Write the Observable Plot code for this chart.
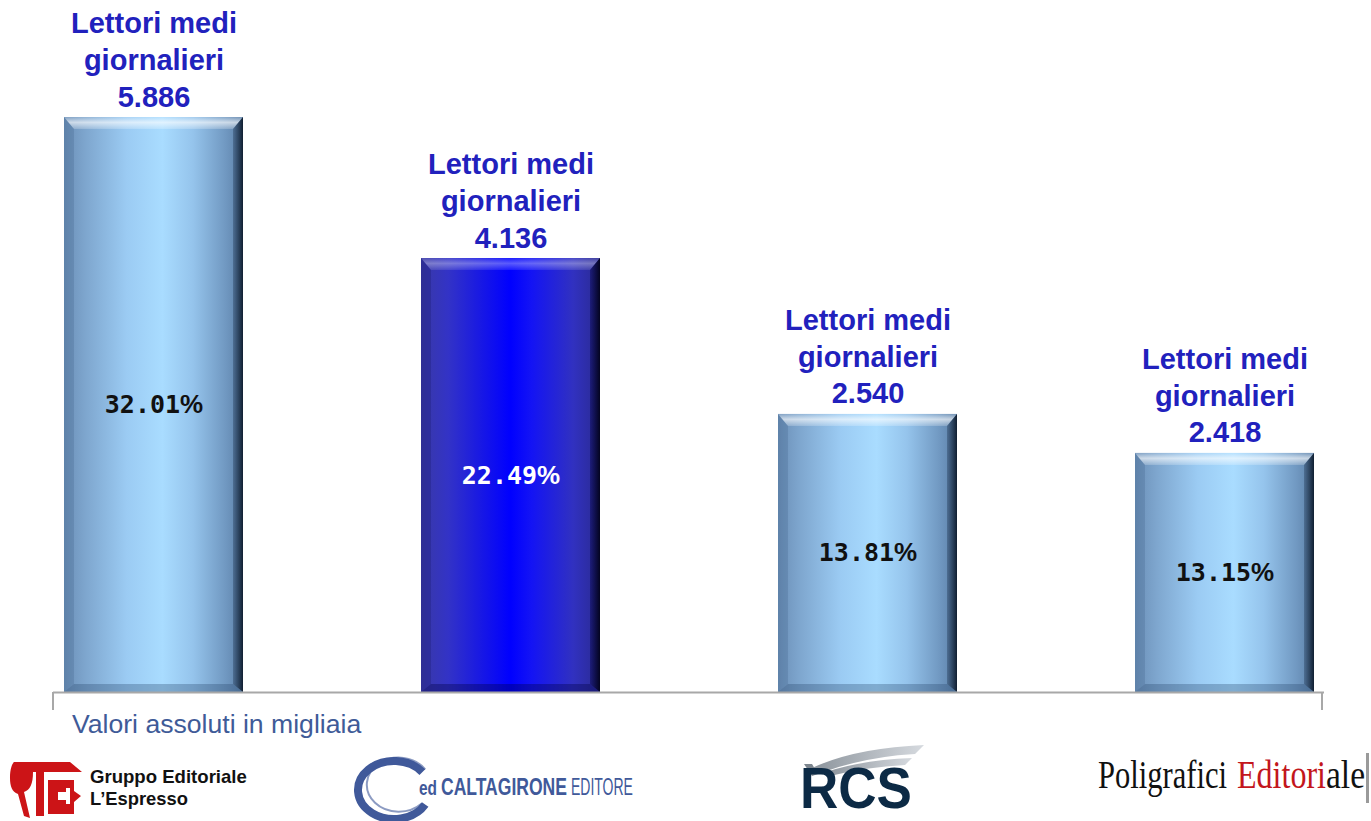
<!DOCTYPE html>
<html>
<head>
<meta charset="utf-8">
<script src="https://cdn.jsdelivr.net/npm/d3@7"></script>
<script src="https://cdn.jsdelivr.net/npm/@observablehq/plot@0.6"></script>
<style>
  body { margin: 0; background: #fff; }
  #wrap { position: relative; width: 1371px; height: 821px; overflow: hidden; background: #fff; }
  #chart svg { display: block; overflow: visible; }
  #footer { display: block; }
  #caption { position: absolute; left: 72px; top: 711px; font: 26.6px/26px "Liberation Sans", Arial, sans-serif; color: #3f5b98; white-space: nowrap; }
</style>
</head>
<body>
<div id="wrap">
  <div id="chart"></div>
  <svg id="footer" width="1371" height="109" viewBox="0 0 1371 109"></svg>
  <div id="caption"></div>
</div>
<script>
// ---------- data ----------
const publishers = ["Gruppo Editoriale L'Espresso", "Caltagirone Editore", "RCS", "Poligrafici Editoriale"];
const shares = [32.01, 22.49, 13.81, 13.15];          // % labels inside the bars
const readers = ["5.886", "4.136", "2.540", "2.418"];   // Lettori medi giornalieri (migliaia)
const barHeights = [32.01, 24.16, 15.48, 13.31];      // bar heights as drawn in the reference (% axis)
const highlighted = ["Caltagirone Editore"];
const labelPrefix = "Lettori medi\ngiornalieri";
const caption = "Valori assoluti in migliaia";

const data = publishers.map((p, i) => ({
  publisher: p, share: shares[i], readers: readers[i], h: barHeights[i], hi: highlighted.includes(p)
}));

const plot = Plot.plot({
  width: 1371,
  height: 712,
  marginLeft: 53,
  marginRight: 47,
  marginTop: 117,
  marginBottom: 20,
  x: { domain: publishers, paddingInner: 0.5, paddingOuter: 0.03, axis: null },
  y: { domain: [0, d3.max(barHeights)], axis: null },
  color: { type: "identity" },
  style: { background: "transparent" },
  marks: [
    Plot.barY(data.filter(d => !d.hi), { x: "publisher", y: "h", fill: "url(#gLight)" }),
    Plot.barY(data.filter(d => d.hi), { x: "publisher", y: "h", fill: "url(#gBlue)" }),
    Plot.ruleY([0], { stroke: "#a8a8a8", strokeWidth: 2 }),
    Plot.text(data, {
      x: "publisher", y: "h",
      text: d => `${labelPrefix}\n${d.readers}`,
      lineAnchor: "bottom", dy: -11, lineHeight: 1.26,
      fontSize: 29, fontWeight: "bold", fontFamily: "Liberation Sans, Arial, sans-serif",
      fill: "#2121bd"
    }),
    Plot.text(data, {
      x: "publisher", y: d => d.h / 2,
      text: d => d.share.toFixed(2) + "%",
      fontSize: 25, fontWeight: "bold", fontFamily: "DejaVu Sans Mono, monospace",
      fill: d => d.hi ? "#ffffff" : "#111111"
    })
  ]
});
document.getElementById("chart").appendChild(plot);
document.getElementById("caption").textContent = caption;

const svg = d3.select(plot);

// render the "%" sign of the share labels in a wider sans glyph, as in the reference
svg.selectAll("text").each(function () {
  const el = d3.select(this);
  if (el.selectAll("tspan").size() > 0) return;
  const s = el.text();
  if (!/%$/.test(s)) return;
  el.text("");
  el.append("tspan").text(s.slice(0, -1));
  el.append("tspan").attr("font-family", "Liberation Sans, Arial, sans-serif").attr("font-size", 26).text("%");
});

// ---------- gradients and bevels ----------
const defs = svg.insert("defs", ":first-child");
function grad(id, stops, vertical) {
  const g = defs.append("linearGradient").attr("id", id)
    .attr("x1", 0).attr("y1", 0).attr("x2", vertical ? 0 : 1).attr("y2", vertical ? 1 : 0);
  stops.forEach(([o, c, a]) => g.append("stop").attr("offset", o).attr("stop-color", c).attr("stop-opacity", a ?? 1));
}
grad("gLight", [[0, "#6b8fb7"], [0.12, "#7ea6ce"], [0.35, "#9bcbf3"], [0.55, "#a9dcff"], [0.72, "#95c4ec"], [0.9, "#7199c2"], [1, "#5a7ea6"]]);
grad("gBlue", [[0, "#3939a6"], [0.15, "#3333c6"], [0.5, "#0000ff"], [0.62, "#1414f4"], [0.85, "#3131c0"], [1, "#2a2a90"]]);
grad("topHi", [[0, "#ffffff", 0.15], [0.45, "#ffffff", 0.65], [1, "#ffffff", 0.2]], true);
grad("topHiB", [[0, "#ffffff", 0.1], [0.45, "#ffffff", 0.35], [1, "#ffffff", 0.1]], true);
grad("rL", [[0, "#1e3450", 0.35], [1, "#0a1626", 0.92]]);
grad("rB", [[0, "#000030", 0.35], [1, "#000015", 0.92]]);
grad("sw", [[0, "#8c949c"], [1, "#d6dadf"]]);

svg.selectAll('g[fill^="url(#g"]').each(function () {
  const grp = d3.select(this);
  const blue = grp.attr("fill") === "url(#gBlue)";
  grp.selectAll("rect").each(function () {
    const r = d3.select(this);
    const x = +r.attr("x"), y = +r.attr("y"), w = +r.attr("width"), h = +r.attr("height");
    const t = 12, s = 10, b = 8;
    const poly = (pts, fill) => grp.append("polygon").attr("points", pts.map(p => p.join(",")).join(" ")).attr("fill", fill);
    poly([[x, y], [x + s, y + t], [x + s, y + h - b], [x, y + h]], blue ? "rgba(10,10,80,0.2)" : "rgba(40,70,110,0.18)");
    poly([[x, y + h], [x + s, y + h - b], [x + w - s, y + h - b], [x + w, y + h]], blue ? "rgba(0,0,70,0.35)" : "rgba(40,70,110,0.32)");
    poly([[x, y], [x + w, y], [x + w - s, y + t], [x + s, y + t]], blue ? "url(#topHiB)" : "url(#topHi)");
    poly([[x + w, y], [x + w, y + h], [x + w - s, y + h - b], [x + w - s, y + t]], blue ? "url(#rB)" : "url(#rL)");
  });
});

// axis end ticks (frame edges of the plot area)
const x0 = 53, x1 = 1371 - 47, yb = 712 - 20;
svg.append("path")
  .attr("d", `M${x0},${yb} V${yb + 18} M${x1 - 2},${yb} V${yb + 18}`)
  .attr("stroke", "#a8a8a8").attr("stroke-width", 2).attr("fill", "none");

// ---------- footer: publisher names ----------
const f = d3.select("#footer");
const SANS = "Liberation Sans, Arial, sans-serif";
function fitText(x, y, width, attrs, str) {
  const t = f.append("text");
  Object.entries(attrs).forEach(([k, v]) => t.attr(k, v));
  t.text(str);
  const natural = t.node().getComputedTextLength() || width;
  t.attr("transform", `translate(${x},${y}) scale(${width / natural},1)`);
  return t;
}

// L'Espresso mark
const red = "#cc1417";
f.append("path").attr("fill", red)
  .attr("d", "M14,50 H70 L82,60 H44 V104 H36 V60 H33 C33,72 30,78 24,80 L30,106 L24,104 L18,82 C12,80 10,74 10,66 C10,57 12,52 14,50 Z");
f.append("path").attr("fill", red)
  .attr("d", "M48,68 H74 V79 L81,84 L74,90 V102 H48 Z");
f.append("path").attr("fill", "#fff").attr("d", "M58,80 H66 V76 H70 V92 H66 V88 H58 Z");
fitText(90, 71, 157, { "font-family": SANS, "font-size": 18, "font-weight": "bold", fill: "#111" }, "Gruppo Editoriale");
fitText(90, 93, 98, { "font-family": SANS, "font-size": 18, "font-weight": "bold", fill: "#111" }, "L\u2019Espresso");

// Caltagirone mark
const cb = "#40599a";
(function () {
  const cx = 394, cy = 78, rx = 36, ry = 29;
  const a0 = -38 * Math.PI / 180, a1 = 30 * Math.PI / 180;
  f.append("path").attr("fill", "none").attr("stroke", cb).attr("stroke-width", 8)
    .attr("d", `M${cx + rx * Math.cos(a0)},${cy + ry * Math.sin(a0)} A${rx},${ry} 0 1 0 ${cx + rx * Math.cos(a1)},${cy + ry * Math.sin(a1)}`);
  f.append("path").attr("fill", "none").attr("stroke", cb).attr("stroke-width", 2).attr("opacity", 0.6)
    .attr("d", `M${cx + 6 + (rx - 4) * Math.cos(a0)},${cy - 4 + (ry - 2) * Math.sin(a0)} A${rx - 4},${ry - 2} 0 1 0 ${cx + (rx - 4) * Math.cos(a1)},${cy + (ry - 2) * Math.sin(a1)}`);
})();
fitText(419, 83, 18, { "font-family": SANS, "font-size": 20, "font-weight": "bold", fill: cb }, "ed");
fitText(441, 83, 126, { "font-family": SANS, "font-size": 24, "font-weight": "bold", fill: cb }, "CALTAGIRONE");
fitText(571, 83, 62, { "font-family": SANS, "font-size": 24, fill: cb }, "EDITORE");

// RCS mark
f.append("path").attr("fill", "url(#sw)").attr("d", "M812,56 Q855,36 924,33 L915,42 Q862,45 818,62 Z");
f.append("path").attr("fill", "url(#sw)").attr("d", "M826,60 Q862,48 912,46 L905,53 Q866,55 830,64 Z");
f.append("path").attr("fill", "#7d868f").attr("d", "M804,52 L812,52 L818,62 L812,64 Z");
fitText(800, 96, 112, { "font-family": SANS, "font-size": 58, "font-weight": "bold", fill: "#0c2a45" }, "RCS");

// Poligrafici Editoriale mark
const SERIF = "Liberation Serif, Times New Roman, serif";
fitText(1098, 76, 129, { "font-family": SERIF, "font-size": 39, fill: "#111" }, "Poligrafici");
fitText(1237, 76, 89, { "font-family": SERIF, "font-size": 39, fill: "#c3161c" }, "Editori");
fitText(1326, 76, 39, { "font-family": SERIF, "font-size": 39, fill: "#111" }, "ale");
f.append("rect").attr("x", 1366).attr("y", 41).attr("width", 3).attr("height", 50).attr("fill", "#9a9a9a");
</script>
</body>
</html>
